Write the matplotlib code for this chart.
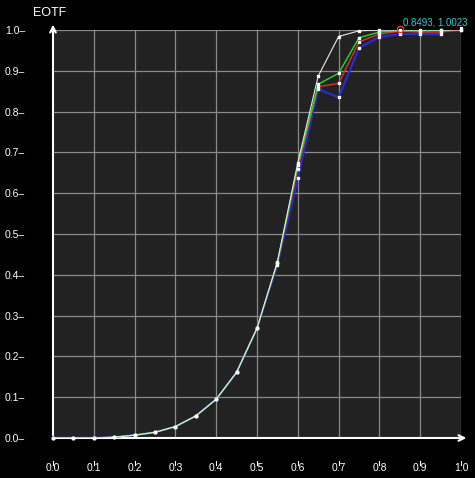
import numpy as np
import matplotlib.pyplot as plt

plt.rcParams['font.family'] = ['Liberation Sans', 'DejaVu Sans']

# sample positions (every 0.05)
x = [0.0, 0.05, 0.1, 0.15, 0.2, 0.25, 0.3, 0.35, 0.4, 0.45, 0.5,
     0.55, 0.6, 0.65, 0.7, 0.75, 0.8, 0.85, 0.9, 0.95, 1.0]

low = [0.0, 0.0, 0.0, 0.002, 0.007, 0.014, 0.028, 0.054, 0.095, 0.161, 0.269]
white = low + [0.432, 0.675, 0.887, 0.984, 0.998, 1.0, 1.0, 1.0, 1.0, 1.0]
green = low + [0.430, 0.668, 0.867, 0.894, 0.981, 0.995, 0.998, 0.998, 0.999, 1.005]
red = low + [0.428, 0.660, 0.861, 0.869, 0.971, 0.990, 0.997, 0.995, 0.995, 1.000]
blue = low + [0.424, 0.638, 0.855, 0.835, 0.956, 0.983, 0.990, 0.990, 0.990]

cursor = (0.8493, 1.0023)
xticks = [0.0, 0.1, 0.2, 0.3, 0.4, 0.5, 0.6, 0.7, 0.8, 0.9, 1.0]
yticks = [0.0, 0.1, 0.2, 0.3, 0.4, 0.5, 0.6, 0.7, 0.8, 0.9, 1.0]

fig = plt.figure(figsize=(4.75, 4.78), dpi=100, facecolor='black')
ax = fig.add_axes([53/475, 40/478, 408/475, 408/478])
ax.set_facecolor('#222222')
ax.set_xlim(0, 1)
ax.set_ylim(0, 1)

for v in xticks[1:]:
    ax.axvline(v, color='#8a8a8a', lw=0.9, zorder=1)
for v in yticks[1:]:
    ax.axhline(v, color='#8a8a8a', lw=0.9, zorder=1)

ax.plot(x[:len(blue)], blue, color='#2a2ad0', lw=1.6, zorder=3)
ax.plot(x, red, color='#e03030', lw=1.0, zorder=4)
ax.plot(x, green, color='#20e020', lw=1.0, zorder=5)
ax.plot(x, white, color='#e8e8e8', lw=0.8, zorder=6)
for s in (blue, red, green, white):
    ax.plot(x[:len(s)], s, ls='none', marker='s', ms=2.0, color='white', zorder=7, clip_on=False)

# cursor readout
ax.plot(*cursor, marker='o', ms=4.5, mfc='none', mec='#ff3030', mew=1, zorder=8, clip_on=False)
ax.text(0.858, 1.006, f'{cursor[0]:.4f}, {cursor[1]:.4f}', color='#33cccc', fontsize=7,
        ha='left', va='bottom', clip_on=False, zorder=9)

for s in ax.spines.values():
    s.set_visible(False)
# axes with arrows
ax.annotate('', xy=(1.02, 0), xytext=(0, 0), xycoords='data',
            arrowprops=dict(arrowstyle='->', color='white', lw=1.5), annotation_clip=False)
ax.annotate('', xy=(0, 1.02), xytext=(0, 0), xycoords='data',
            arrowprops=dict(arrowstyle='->', color='white', lw=1.5), annotation_clip=False)

ax.set_yticks(yticks)
ax.set_yticklabels([f'{v:.1f}\u2013' for v in yticks])
ax.tick_params(axis='y', length=0, pad=20, colors='white', labelsize=7.5)
ax.set_xticks(xticks)
ax.set_xticklabels([f'{v:.1f}' for v in xticks])
ax.tick_params(axis='x', length=0, pad=18, colors='white', labelsize=7.5)
for v in xticks:
    ax.plot([v, v], [-0.056, -0.066], color='white', lw=0.8, clip_on=False)

fig.text(33/475, 1 - 13/478, 'EOTF', color='white', fontsize=9, ha='left', va='center')

fig.savefig('out.png', dpi=100, facecolor='black')
